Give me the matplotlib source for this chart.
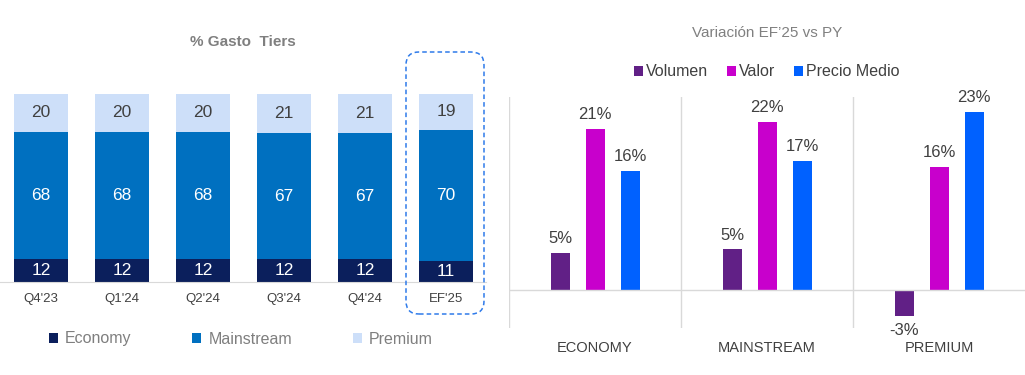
import matplotlib
matplotlib.use("Agg")
import matplotlib.pyplot as plt
from matplotlib.patches import FancyBboxPatch, Patch
import numpy as np

plt.rcParams['font.family'] = ['Liberation Sans', 'DejaVu Sans']

# ---- Left chart data ----
periods = ["Q4'23", "Q1'24", "Q2'24", "Q3'24", "Q4'24", "EF'25"]
economy = [12, 12, 12, 12, 12, 11]
mainstream = [68, 68, 68, 67, 67, 70]
premium = [20, 20, 20, 21, 21, 19]
tier_names = ["Economy", "Mainstream", "Premium"]
tier_colors = ["#0b1f5c", "#0070c0", "#cddff9"]

# ---- Right chart data ----
segments = ["ECONOMY", "MAINSTREAM", "PREMIUM"]
volumen = [4.9, 5.3, -3.3]
valor = [21.0, 21.9, 16.0]
precio = [15.5, 16.8, 23.1]
metric_names = ["Volumen", "Valor", "Precio Medio"]
metric_colors = ["#612086", "#c800cc", "#0061ff"]

W, H = 1025, 375
fig = plt.figure(figsize=(W / 100, H / 100), dpi=100)

def px_axes(x0, x1, ytop, ybot):
    return fig.add_axes([x0 / W, (H - ybot) / H, (x1 - x0) / W, (ybot - ytop) / H])

# ================= Left chart =================
axL = px_axes(0, 486, 94, 282)
x = np.arange(len(periods))
bw = 54 / 81
b1 = axL.bar(x, economy, bw, color=tier_colors[0], label=tier_names[0])
b2 = axL.bar(x, mainstream, bw, bottom=economy, color=tier_colors[1], label=tier_names[1])
bottom2 = np.array(economy) + np.array(mainstream)
b3 = axL.bar(x, premium, bw, bottom=bottom2, color=tier_colors[2], label=tier_names[2])
axL.set_xlim(-41 / 81, 445 / 81)
axL.set_ylim(0, 100)
for i in range(len(periods)):
    axL.text(x[i], economy[i] / 2, f"{economy[i]}", ha='center', va='center',
             color='white', fontsize=12.5)
    axL.text(x[i], economy[i] + mainstream[i] / 2, f"{mainstream[i]}", ha='center',
             va='center', color='white', fontsize=12.5)
    axL.text(x[i], bottom2[i] + premium[i] / 2, f"{premium[i]}", ha='center',
             va='center', color='#404040', fontsize=12.5)
for s in ['top', 'left', 'right']:
    axL.spines[s].set_visible(False)
axL.spines['bottom'].set_color('#d9d9d9')
axL.set_yticks([])
axL.set_xticks(x)
axL.set_xticklabels(periods, fontsize=9.5, color='#404040')
axL.tick_params(axis='x', length=0, pad=8)
fig.text(243 / W, 1 - 42 / H, "% Gasto  Tiers", ha='center', va='center',
         fontsize=11, fontweight='bold', color='#7f7f7f')
legL = fig.legend(handles=[b1, b2, b3], labels=tier_names, loc='center',
                  bbox_to_anchor=(241 / W, 1 - 339 / H), ncol=3, frameon=False,
                  fontsize=11.5, labelcolor='#7f7f7f', handlelength=0.56,
                  handleheight=0.56, handletextpad=0.45, columnspacing=3.8)

box = FancyBboxPatch((4.06, (H - 314) / 100), 0.78, 2.62,
                     boxstyle="round,pad=0,rounding_size=0.13",
                     transform=fig.dpi_scale_trans, fill=False,
                     edgecolor='#2f7bea', linewidth=1.1, linestyle=(0, (3, 2)))
fig.add_artist(box)

# ================= Right chart =================
axR = px_axes(509, 1025, 97, 328)
xr = np.arange(len(segments))
off = 35 / 172
bwr = 19 / 172
series = [volumen, valor, precio]
handles = []
for j, (vals, name, col) in enumerate(zip(series, metric_names, metric_colors)):
    h = axR.bar(xr + (j - 1) * off, vals, bwr, color=col, label=name)
    handles.append(h)
    for i, v in enumerate(vals):
        if v >= 0:
            axR.annotate(f"{round(v):.0f}%", (xr[i] + (j - 1) * off, v),
                         xytext=(0, 5), textcoords='offset points', ha='center',
                         va='bottom', fontsize=12, color='#404040')
        else:
            axR.annotate(f"{round(v):.0f}%", (xr[i] + (j - 1) * off, v),
                         xytext=(0, -5), textcoords='offset points', ha='center',
                         va='top', fontsize=12, color='#404040')
axR.set_xlim(-0.5, 2.5)
axR.set_ylim(-4.9, 25.1)
axR.axhline(0, color='#d9d9d9', lw=1)
for xv in [-0.5, 0.5, 1.5]:
    axR.axvline(xv, color='#d9d9d9', lw=1)
for s in ['top', 'left', 'right', 'bottom']:
    axR.spines[s].set_visible(False)
axR.set_yticks([])
axR.set_xticks(xr)
axR.set_xticklabels(segments, fontsize=10.5, color='#404040')
axR.tick_params(axis='x', length=0, pad=9)
fig.text(767 / W, 1 - 33 / H, "Variación EF\u201925 vs PY", ha='center', va='center',
         fontsize=11, color='#808080')
legR = fig.legend(handles=handles, labels=metric_names, loc='center',
                  bbox_to_anchor=(767 / W, 1 - 72 / H), ncol=3, frameon=False,
                  fontsize=11.5, labelcolor='#404040', handlelength=0.53,
                  handleheight=0.53, handletextpad=0.2, columnspacing=1.2)

fig.savefig("out.png", dpi=100)
